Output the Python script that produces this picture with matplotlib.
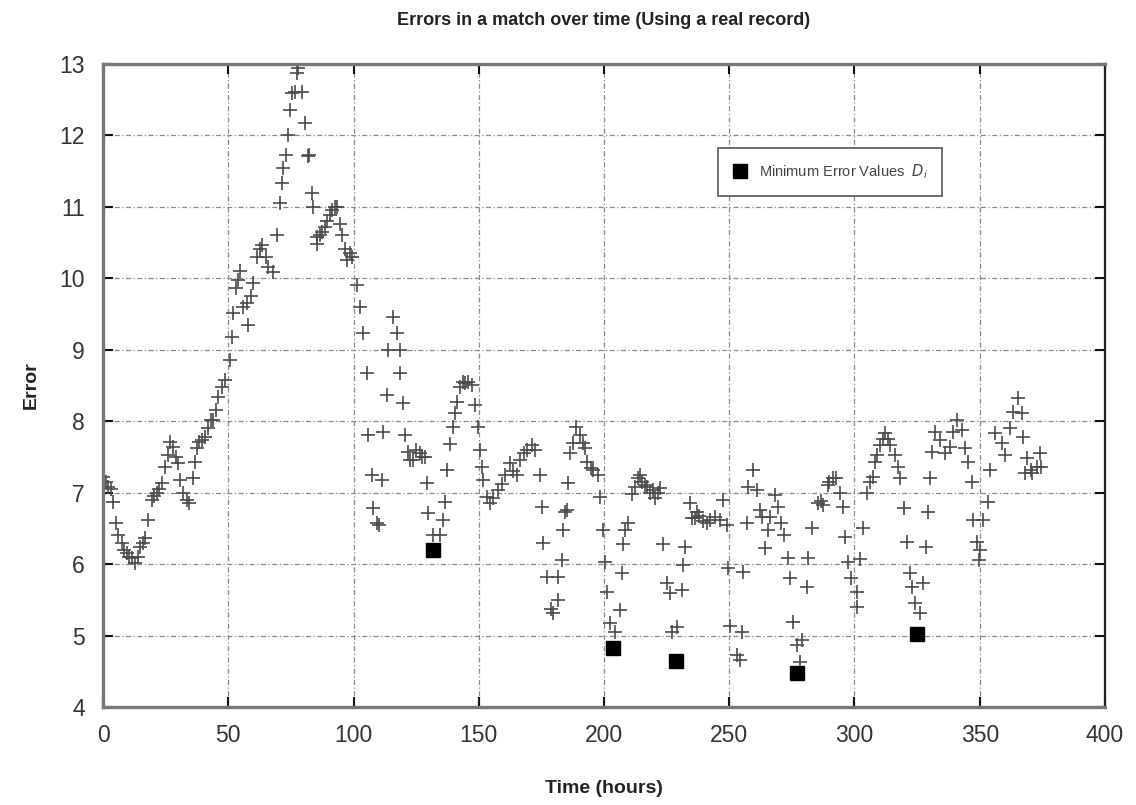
import matplotlib
matplotlib.use("Agg")
import matplotlib.pyplot as plt

plt.rcParams['font.family'] = ['Liberation Sans', 'DejaVu Sans']

# Error samples (+ markers)
err_x = [0, 1, 2, 3, 4, 5, 6, 7.6, 8.5, 9.6, 10.5, 11.5, 12.8, 13.8, 14.8, 15.8, 16.8, 18, 19.5, 20.5,
         21.5, 22.5, 23.5, 24.7, 26, 26.6, 28, 29, 30, 30.7, 32, 33.5, 34.5, 36, 36.7, 37.5, 38.5, 39.4, 40.7, 42,
         43, 44, 45, 46, 47.5, 48.7, 50.7, 51.5, 52, 53, 54, 54.7, 56, 57.5, 58, 59, 60, 61.5, 62.5, 63.5,
         65, 66, 68, 69.5, 70.7, 71.3, 71.9, 73, 73.9, 74.7, 75.4, 76.5, 77.4, 77.8, 79.4, 80.6, 81.8, 82.3, 83.3, 83.7,
         85.4, 85.4, 86.5, 87.5, 88.5, 89.5, 90.5, 91.5, 92.5, 93.4, 94.5, 95.5, 96.5, 97.4, 98.5, 99.4, 101.4, 102.6, 103.8, 105.4,
         105.8, 107.4, 107.8, 109.4, 110, 111.4, 111.8, 113.4, 113.8, 115.8, 117.4, 118.6, 118.6, 119.8, 120.6, 121.8, 122.5, 123.8, 125, 126.5,
         127.5, 128.5, 129.3, 129.7, 131.7, 134.5, 135.7, 136.5, 137.3, 138.5, 139.7, 140.5, 141.3, 142.5, 143.7, 144.7, 145.7, 147.3, 148.5, 149.7,
         150.5, 151.3, 151.7, 153.3, 154.5, 155.7, 157.7, 159.3, 160.5, 162.5, 163.5, 165.3, 166.5, 168, 169.3, 171.3, 172.5, 174.5, 175.3, 175.7,
         177.3, 179, 179.6, 181.6, 181.6, 183.2, 183.6, 184.4, 185.2, 185.6, 186.4, 187.6, 189, 190.5, 191.6, 192.4, 193.2, 195, 195.6, 197.6,
         198.4, 199.6, 200.4, 201.2, 202.4, 204.4, 206.4, 207.2, 207.6, 208.4, 209.6, 211.2, 212.4, 213.5, 214.4, 215.2, 216.2, 217.2, 218.5, 219.6,
         220.4, 221.5, 222.4, 223.6, 225.2, 226.4, 227.2, 229.2, 231.2, 231.6, 232.4, 234.4, 235.2, 236.2, 237.2, 238, 239.5, 241.2, 242.4, 244.4,
         246.4, 247.6, 249.2, 249.6, 250.4, 253.2, 254.4, 255.2, 255.6, 257.2, 257.6, 259.6, 261.2, 262.4, 263.2, 264.4, 265.6, 266.4, 268.4, 269.6,
         270.8, 272, 273.6, 274.4, 275.4, 277, 278.2, 279, 281.2, 281.6, 283, 285.4, 286.8, 287.4, 289.4, 290, 291.4, 292.5, 294.2, 295.4,
         296.2, 297.4, 298.8, 300.8, 300.8, 302.2, 303.4, 305, 306.2, 307.4, 308.2, 309, 310.2, 311.2, 312.2, 313.2, 314.2, 316.2, 317.4, 318.2,
         319.6, 320.8, 322.2, 322.8, 324.2, 326.2, 327.4, 328.6, 329.4, 330.2, 331, 332.2, 334.2, 336.2, 338.2, 339.4, 341, 343, 344.2, 345.4,
         346.8, 347.4, 348.8, 349.6, 350, 351.4, 353.2, 354.2, 356.2, 358.8, 360, 362, 363.3, 365.3, 366.9, 367.3, 368.1, 368.9, 370.3, 370.9,
         372.9, 374.1, 374.5]
err_y = [7.22, 7.15, 7.08, 7.05, 6.87, 6.57, 6.4, 6.29, 6.2, 6.15, 6.1, 6.08, 6.01, 6.1, 6.24, 6.3, 6.36, 6.62, 6.9, 6.95,
         6.99, 7.05, 7.13, 7.36, 7.53, 7.7, 7.64, 7.5, 7.41, 7.18, 7.0, 6.9, 6.85, 7.2, 7.43, 7.62, 7.7, 7.73, 7.78, 7.9,
         8.01, 8.01, 8.15, 8.34, 8.48, 8.57, 8.85, 9.18, 9.51, 9.86, 9.97, 10.1, 9.6, 9.65, 9.34, 9.75, 9.93, 10.3, 10.4, 10.46,
         10.3, 10.15, 10.08, 10.6, 11.05, 11.33, 11.54, 11.72, 12.0, 12.35, 12.59, 12.6, 12.87, 12.94, 12.6, 12.17, 11.7, 11.72, 11.19, 11.0,
         10.57, 10.47, 10.6, 10.65, 10.72, 10.8, 10.88, 10.95, 11.0, 11.0, 10.75, 10.6, 10.4, 10.25, 10.35, 10.3, 9.9, 9.6, 9.23, 8.67,
         7.8, 7.24, 6.78, 6.58, 6.55, 7.17, 7.85, 8.36, 8.99, 9.45, 9.23, 8.99, 8.67, 8.25, 7.8, 7.57, 7.45, 7.45, 7.6, 7.55,
         7.5, 7.5, 7.13, 6.71, 6.4, 6.4, 6.62, 6.87, 7.31, 7.68, 7.92, 8.11, 8.27, 8.48, 8.55, 8.53, 8.55, 8.5, 8.22, 7.92,
         7.6, 7.36, 7.17, 6.94, 6.85, 6.93, 7.03, 7.12, 7.25, 7.41, 7.3, 7.24, 7.45, 7.55, 7.59, 7.66, 7.6, 7.24, 6.8, 6.3,
         5.82, 5.37, 5.31, 5.82, 5.5, 6.06, 6.48, 6.73, 6.76, 7.14, 7.55, 7.69, 7.92, 7.8, 7.69, 7.62, 7.43, 7.35, 7.31, 7.24,
         6.94, 6.48, 6.03, 5.61, 5.17, 5.05, 5.36, 5.87, 6.28, 6.47, 6.58, 6.98, 7.08, 7.2, 7.24, 7.15, 7.1, 7.08, 7.0, 7.03,
         6.93, 7.0, 7.06, 6.28, 5.73, 5.59, 5.05, 5.12, 5.64, 5.98, 6.24, 6.85, 6.64, 6.65, 6.73, 6.67, 6.6, 6.57, 6.62, 6.66,
         6.62, 6.9, 6.55, 5.94, 5.14, 4.73, 4.66, 5.05, 5.89, 6.57, 7.08, 7.31, 7.03, 6.76, 6.66, 6.22, 6.48, 6.66, 6.97, 6.8,
         6.58, 6.4, 6.08, 5.8, 5.19, 4.87, 4.63, 4.94, 5.68, 6.08, 6.5, 6.85, 6.88, 6.83, 7.1, 7.15, 7.21, 7.2, 6.99, 6.8,
         6.38, 6.03, 5.8, 5.61, 5.4, 6.07, 6.5, 6.99, 7.15, 7.22, 7.43, 7.52, 7.66, 7.75, 7.83, 7.75, 7.66, 7.52, 7.36, 7.21,
         6.79, 6.31, 5.87, 5.68, 5.45, 5.31, 5.73, 6.24, 6.73, 7.2, 7.57, 7.85, 7.73, 7.55, 7.64, 7.85, 8.01, 7.87, 7.62, 7.43,
         7.15, 6.62, 6.31, 6.06, 6.2, 6.62, 6.87, 7.31, 7.83, 7.69, 7.52, 7.9, 8.13, 8.32, 8.11, 7.77, 7.27, 7.48, 7.31, 7.27,
         7.36, 7.55, 7.36]

# Minimum error values
min_x = [131.7, 203.6, 228.7, 277.0, 325.0]
min_y = [6.19, 4.82, 4.64, 4.48, 5.02]

x_ticks = [0, 50, 100, 150, 200, 250, 300, 350, 400]
y_ticks = [4, 5, 6, 7, 8, 9, 10, 11, 12, 13]

fig = plt.figure(figsize=(11.36, 8.05), dpi=100)
ax = fig.add_axes([0.0907, 0.1217, 0.882, 0.7994])

ax.plot(err_x, err_y, linestyle='none', marker='+', markersize=9.5, markeredgewidth=1.2,
        color='#4a4a4a')
ax.plot(min_x, min_y, linestyle='none', marker='s', markersize=10.5, color='black',
        label=r'Minimum Error Values  $D_i$')

ax.set_xlim(0, 400)
ax.set_ylim(4, 13)
ax.set_xticks(x_ticks)
ax.set_yticks(y_ticks)
ax.tick_params(axis='both', which='both', direction='in', top=True, right=True,
               length=7, width=1.5, labelsize=16.5, colors='#111111')
ax.tick_params(axis='x', pad=12)
ax.tick_params(axis='y', pad=13)
for lab in ax.get_xticklabels() + ax.get_yticklabels():
    lab.set_color('#333333')
ax.grid(True, color='#888888', linestyle=(0, (4, 2, 1, 2)), linewidth=0.9)
for name, s in ax.spines.items():
    s.set_linewidth(2.4)
    s.set_color('#777777')
ax.spines['right'].set_color('#222222')
ax.spines['right'].set_linewidth(1.6)

ax.set_title('Errors in a match over time (Using a real record)', fontsize=13,
             fontweight='bold', pad=28, color='#222222')
ax.set_xlabel('Time (hours)', fontsize=14, fontweight='bold', labelpad=24, color='#222222')
ax.set_ylabel('Error', fontsize=14, fontweight='bold', labelpad=14, color='#222222')

leg = ax.legend(loc='upper left', bbox_to_anchor=(0.614, 0.869), fontsize=10.5,
                fancybox=False, framealpha=1, edgecolor='#555555', borderpad=1.0,
                handletextpad=0.8, markerscale=0.95, handlelength=1.0, borderaxespad=0)
leg.get_frame().set_linewidth(1.2)
for t in leg.get_texts():
    t.set_color('#444444')

fig.savefig('out.png', dpi=100)
